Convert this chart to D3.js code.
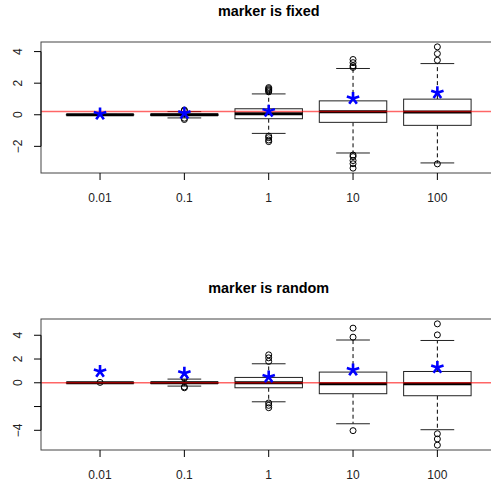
<!DOCTYPE html>
<html><head><meta charset="utf-8">
<script src="https://cdn.jsdelivr.net/npm/d3@7"></script>
<style>body{margin:0;background:#fff}svg{display:block;font-family:"Liberation Sans",Arial,sans-serif}</style>
</head><body><svg id="c" width="491" height="485"></svg>
<script>
const categories = ["0.01","0.1","1","10","100"];

const fixedQ1 = [-0.01, -0.04, -0.25, -0.48, -0.67];
const fixedMedian = [0, 0, 0.06, 0.19, 0.17];
const fixedQ3 = [0.01, 0.04, 0.38, 0.88, 0.99];
const fixedWhiskerLo = [-0.02, -0.2, -1.18, -2.42, -3.05];
const fixedWhiskerHi = [0.02, 0.2, 1.32, 2.93, 3.24];
const fixedOutliers = [[], [0.3, 0.25, -0.22, -0.3], [1.45, 1.52, 1.58, 1.65, 1.72, -1.35, -1.45, -1.6, -1.7], [3.0, 3.1, 3.3, 3.5, -2.55, -2.65, -2.9, -3.1, -3.38], [4.3, 3.87, 3.45, -3.11]];
const fixedMeans = [0.05, 0.1, 0.23, 1.03, 1.39];
const fixedRef = 0.2;
const fixedTicks = [-2, 0, 2, 4];
const fixedTickLabels = ["\u22122", "0", "2", "4"];

const randomQ1 = [-0.01, -0.05, -0.42, -0.92, -1.09];
const randomMedian = [0, 0, 0, -0.08, -0.08];
const randomQ3 = [0.01, 0.05, 0.45, 0.9, 0.95];
const randomWhiskerLo = [-0.02, -0.28, -1.6, -3.45, -3.95];
const randomWhiskerHi = [0.02, 0.31, 1.6, 3.6, 3.56];
const randomOutliers = [[0.03], [0.45, 0.38, -0.35, -0.42], [2.35, 2.1, 1.8, -1.7, -1.9, -2.1], [4.6, 3.84, -4.03], [4.96, 4.03, -4.29, -4.73, -5.25]];
const randomMeans = [0.95, 0.8, 0.48, 1.07, 1.29];
const randomRef = 0;
const randomTicks = [-4, -2, 0, 2, 4];
const randomTickLabels = ["\u22124", "", "0", "2", "4"];

const svg = d3.select("#c");

function panel(opts) {
  const {title, top, bottom, q1, med, q3, wlo, whi, outs, means, ref, ticks, tickLabels, id} = opts;
  const left = 41, right = 496.4;
  const x = d3.scaleLinear().domain([0.3, 5.7]).range([left, right]);
  const allVals = [].concat(wlo, whi, ...outs);
  const lo = d3.min(allVals), hi = d3.max(allVals), pad = (hi - lo) * 0.04;
  const y = d3.scaleLinear().domain([lo - pad, hi + pad]).range([bottom, top]);
  const g = svg.append("g");
  g.append("defs").append("clipPath").attr("id", id).append("rect")
    .attr("x", left).attr("y", top).attr("width", right - left).attr("height", bottom - top);

  g.append("text").attr("x", (left + right) / 2).attr("y", top - 26.5)
    .attr("text-anchor", "middle").attr("font-weight", "bold").attr("font-size", 14.4).text(title);

  const bw = x(1.4) - x(1);
  categories.forEach((c, i) => {
    const cx = x(i + 1);
    const bg = g.append("g");
    [[q3[i], whi[i]], [q1[i], wlo[i]]].forEach(([a, b]) => {
      bg.append("line").attr("x1", cx).attr("x2", cx).attr("y1", y(a)).attr("y2", y(b))
        .attr("stroke", "#000").attr("stroke-width", 1).attr("stroke-dasharray", "4,3");
      bg.append("line").attr("x1", cx - bw / 2).attr("x2", cx + bw / 2).attr("y1", y(b)).attr("y2", y(b))
        .attr("stroke", "#222").attr("stroke-width", 1);
    });
    bg.append("rect").attr("x", cx - bw).attr("width", 2 * bw)
      .attr("y", y(q3[i])).attr("height", Math.max(0, y(q1[i]) - y(q3[i])))
      .attr("fill", "#fff").attr("stroke", "#222").attr("stroke-width", 1);
    bg.append("line").attr("x1", cx - bw).attr("x2", cx + bw).attr("y1", y(med[i])).attr("y2", y(med[i]))
      .attr("stroke", "#000").attr("stroke-width", 3);
    outs[i].forEach(v => {
      bg.append("circle").attr("cx", cx).attr("cy", y(v)).attr("r", 3)
        .attr("fill", "none").attr("stroke", "#000").attr("stroke-width", 1);
    });
  });

  g.append("line").attr("clip-path", `url(#${id})`).attr("x1", left).attr("x2", right)
    .attr("y1", y(ref)).attr("y2", y(ref)).attr("stroke", "rgba(255,0,0,0.6)").attr("stroke-width", 1.5);

  categories.forEach((c, i) => {
    const cx = x(i + 1), cy = y(means[i]);
    const L = 6.5;
    let d = "";
    for (let k = 0; k < 5; k++) {
      const a = -Math.PI / 2 + k * 2 * Math.PI / 5;
      d += `M${cx},${cy}L${cx + L * Math.cos(a)},${cy + L * Math.sin(a)}`;
    }
    g.append("path").attr("d", d).attr("stroke", "#0000ff").attr("stroke-width", 2.6)
      .attr("stroke-linecap", "butt").attr("fill", "none");
  });

  g.append("rect").attr("x", left).attr("y", top).attr("width", right - left).attr("height", bottom - top)
    .attr("fill", "none").attr("stroke", "#444").attr("stroke-width", 1);

  categories.forEach((c, i) => {
    const cx = x(i + 1);
    g.append("line").attr("x1", cx).attr("x2", cx).attr("y1", bottom).attr("y2", bottom + 7).attr("stroke", "#000");
    g.append("text").attr("x", cx).attr("y", bottom + 29).attr("text-anchor", "middle")
      .attr("font-size", 12).attr("fill", "#222").text(c);
  });
  ticks.forEach((t, i) => {
    const ty = y(t);
    g.append("line").attr("x1", left - 7).attr("x2", left).attr("y1", ty).attr("y2", ty).attr("stroke", "#000");
    if (tickLabels[i]) {
      g.append("text").attr("transform", `translate(${left - 19},${ty}) rotate(-90)`)
        .attr("text-anchor", "middle").attr("font-size", 12).attr("fill", "#222").text(tickLabels[i]);
    }
  });
  g.append("line").attr("x1", left).attr("x2", left).attr("y1", y(ticks[0])).attr("y2", y(ticks[ticks.length - 1])).attr("stroke", "#000");
}

panel({title: "marker is fixed", top: 42, bottom: 173, q1: fixedQ1, med: fixedMedian, q3: fixedQ3,
  wlo: fixedWhiskerLo, whi: fixedWhiskerHi, outs: fixedOutliers, means: fixedMeans, ref: fixedRef,
  ticks: fixedTicks, tickLabels: fixedTickLabels, id: "clipA"});
panel({title: "marker is random", top: 319, bottom: 450, q1: randomQ1, med: randomMedian, q3: randomQ3,
  wlo: randomWhiskerLo, whi: randomWhiskerHi, outs: randomOutliers, means: randomMeans, ref: randomRef,
  ticks: randomTicks, tickLabels: randomTickLabels, id: "clipB"});
</script></body></html>
